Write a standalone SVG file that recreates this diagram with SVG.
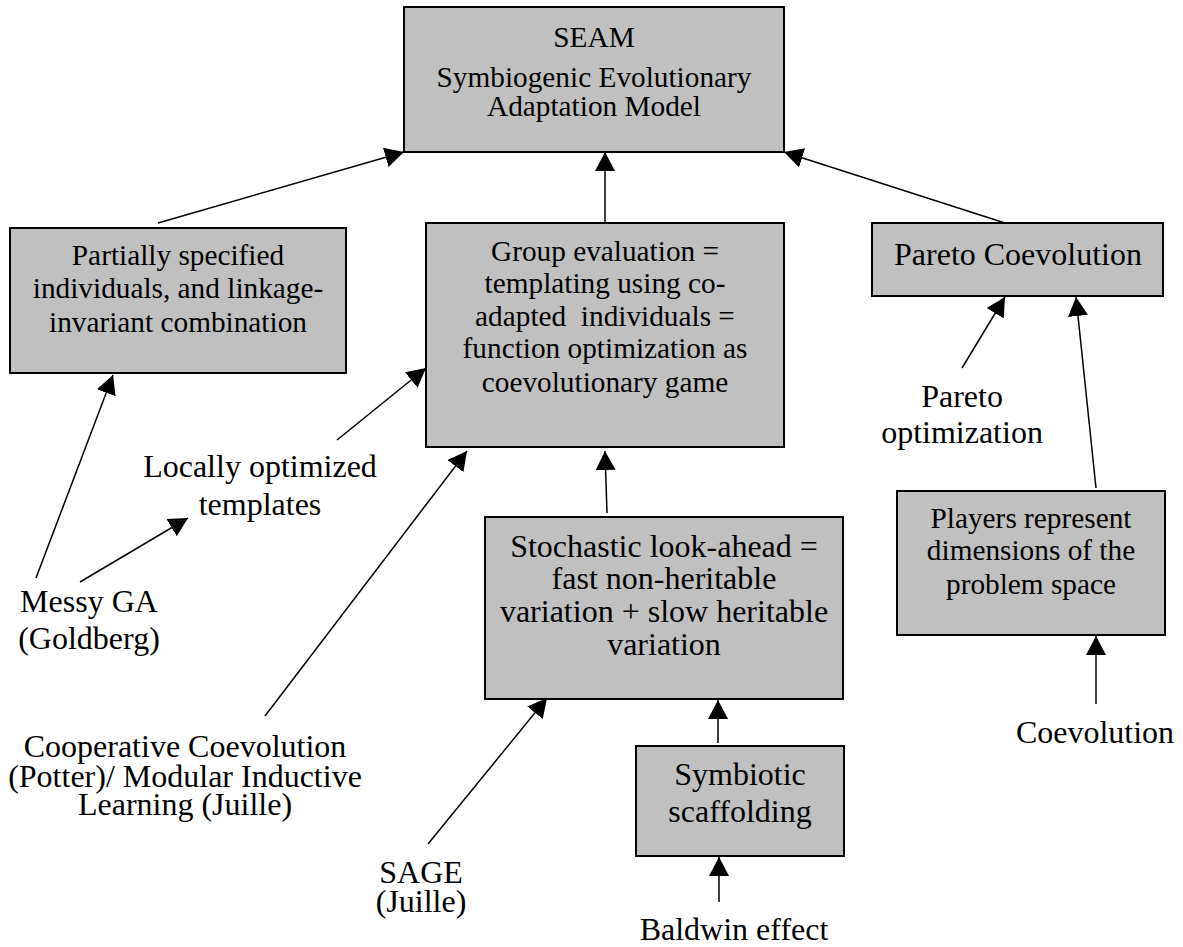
<svg xmlns="http://www.w3.org/2000/svg" width="1183" height="947" viewBox="0 0 1183 947" font-family="'Liberation Serif', 'DejaVu Serif', serif">
<style>
.box{fill:#c0c0c0;stroke:#000;stroke-width:2}
text{font-family:'Liberation Serif','DejaVu Serif',serif;font-size:29.3px;fill:#000;text-anchor:middle}
.big text{font-size:32px}
.c line{stroke:#000;stroke-width:1.5;marker-end:url(#ah)}
</style>
<defs>
<marker id="ah" markerUnits="userSpaceOnUse" markerWidth="20" markerHeight="20" refX="19" refY="10" orient="auto">
<path d="M0,0 L19,10 L0,20 z" fill="#000"/>
</marker>
</defs>
<rect width="1183" height="947" fill="#fff"/>
<g id="seam">
<rect class="box" x="404" y="7" width="380" height="145"/>
<text x="594" y="47">SEAM</text>
<text x="594" y="87">Symbiogenic Evolutionary</text>
<text x="594" y="116">Adaptation Model</text>
</g>
<g id="partial">
<rect class="box" x="10" y="228" width="336" height="145"/>
<text x="178" y="265">Partially specified</text>
<text x="178" y="298">individuals, and linkage-</text>
<text x="178" y="332">invariant combination</text>
</g>
<g id="group">
<rect class="box" x="426" y="223" width="358" height="224"/>
<text x="605" y="261">Group evaluation =</text>
<text x="605" y="293">templating using co-</text>
<text x="605" y="326" xml:space="preserve">adapted  individuals =</text>
<text x="605" y="358">function optimization as</text>
<text x="605" y="392">coevolutionary game</text>
</g>
<g id="pareto" class="big">
<rect class="box" x="872" y="223" width="291" height="73"/>
<text x="1018" y="265">Pareto Coevolution</text>
</g>
<g id="stochastic" class="big">
<rect class="box" x="485" y="517" width="358" height="182"/>
<text x="664" y="557">Stochastic look-ahead =</text>
<text x="664" y="589">fast non-heritable</text>
<text x="664" y="622">variation + slow heritable</text>
<text x="664" y="655">variation</text>
</g>
<g id="symbiotic" class="big">
<rect class="box" x="636" y="746" width="208" height="110"/>
<text x="740" y="785">Symbiotic</text>
<text x="740" y="822">scaffolding</text>
</g>
<g id="players">
<rect class="box" x="897" y="491" width="268" height="144"/>
<text x="1031" y="528">Players represent</text>
<text x="1031" y="560">dimensions of the</text>
<text x="1031" y="594">problem space</text>
</g>
<g id="locally" class="big">
<text x="260" y="477">Locally optimized</text>
<text x="260" y="515">templates</text>
</g>
<g id="messy" class="big">
<text x="89" y="612">Messy GA</text>
<text x="89" y="649">(Goldberg)</text>
</g>
<g id="coop" class="big">
<text x="185" y="757">Cooperative Coevolution</text>
<text x="185" y="787">(Potter)/ Modular Inductive</text>
<text x="185" y="815">Learning (Juille)</text>
</g>
<g id="sage" class="big">
<text x="421" y="883">SAGE</text>
<text x="421" y="912">(Juille)</text>
</g>
<g id="baldwin" class="big">
<text x="734" y="940">Baldwin effect</text>
</g>
<g id="paretoopt" class="big">
<text x="962" y="407">Pareto</text>
<text x="962" y="443">optimization</text>
</g>
<g id="coevolution" class="big">
<text x="1095" y="743">Coevolution</text>
</g>
<g class="c" id="connectors">
<line x1="158" y1="223" x2="404" y2="152"/>
<line x1="605" y1="223" x2="605" y2="152"/>
<line x1="1005" y1="223" x2="784" y2="152"/>
<line x1="962" y1="368" x2="1005" y2="297"/>
<line x1="1096" y1="488" x2="1076" y2="297"/>
<line x1="1096" y1="704" x2="1096" y2="636"/>
<line x1="337" y1="440" x2="426" y2="368"/>
<line x1="265" y1="716" x2="467" y2="451"/>
<line x1="607" y1="513" x2="605" y2="451"/>
<line x1="36" y1="578" x2="113" y2="375"/>
<line x1="80" y1="582" x2="188" y2="518"/>
<line x1="428" y1="844" x2="547" y2="698"/>
<line x1="718" y1="743" x2="718" y2="700"/>
<line x1="719" y1="902" x2="719" y2="857"/>
</g>
</svg>
